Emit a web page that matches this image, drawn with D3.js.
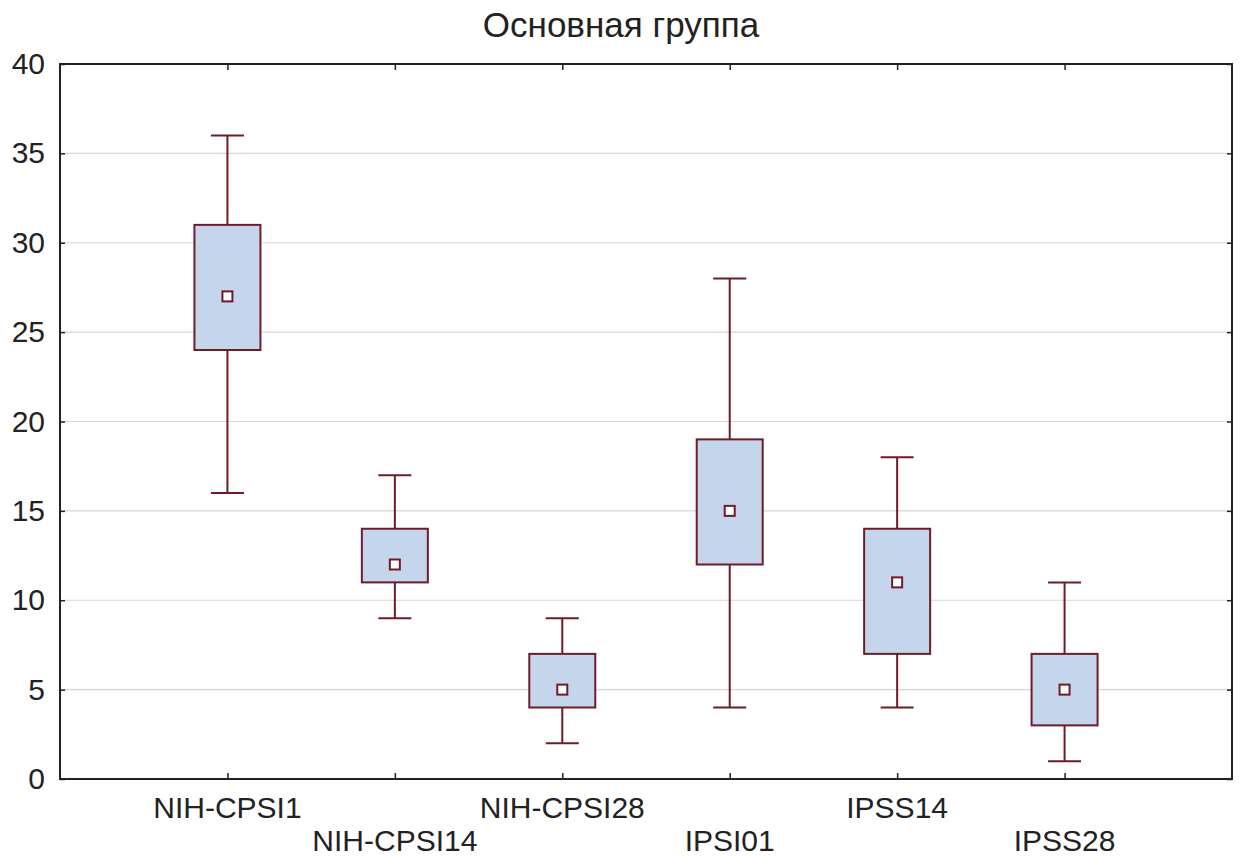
<!DOCTYPE html>
<html>
<head>
<meta charset="utf-8">
<script src="https://cdn.jsdelivr.net/npm/d3@7"></script>
<style>
  body { margin: 0; background: #fff; }
  text { font-family: "Liberation Sans", Arial, sans-serif; fill: #222; }
</style>
</head>
<body>
<div id="chart"></div>
<script>
var chart_width = 1240;
var chart_height = 858;

var categories = ['NIH-CPSI1', 'NIH-CPSI14', 'NIH-CPSI28', 'IPSI01', 'IPSS14', 'IPSS28'];
var mins    = [16, 9, 2, 4, 4, 1];
var q1s     = [24, 11, 4, 12, 7, 3];
var medians = [27, 12, 5, 15, 11, 5];
var q3s     = [31, 14, 7, 19, 14, 7];
var maxs    = [36, 17, 9, 28, 18, 11];
var y_ticks = [0, 5, 10, 15, 20, 25, 30, 35, 40];

var p_left = 60, p_right = 1232, p_top = 64, p_bottom = 779;
var stroke_col = '#6e1c28';

var svg = d3.select('#chart')
  .append('svg')
  .attr('width', chart_width)
  .attr('height', chart_height);

var x_scale = d3.scaleLinear()
  .domain([0, categories.length + 1])
  .range([p_left, p_right]);

var y_scale = d3.scaleLinear()
  .domain([0, 40])
  .range([p_bottom, p_top]);

// grid lines
svg.selectAll('line.grid')
  .data(y_ticks.slice(1, -1))
  .enter()
  .append('line')
  .attr('x1', p_left).attr('x2', p_right)
  .attr('y1', function(d) { return y_scale(d); })
  .attr('y2', function(d) { return y_scale(d); })
  .attr('stroke', '#d6d6d6')
  .attr('stroke-width', 1.2);

// axes with inward ticks
var idx = categories.map(function(d, i) { return i + 1; });

var y_axis_left = d3.axisLeft(y_scale).tickValues(y_ticks).tickSize(-5).tickPadding(15);
var y_axis_right = d3.axisRight(y_scale).tickValues(y_ticks).tickSize(-5).tickFormat('');
var x_axis_top = d3.axisTop(x_scale).tickValues(idx).tickSize(-6).tickFormat('');
var x_axis_bottom = d3.axisBottom(x_scale).tickValues(idx).tickSize(-6).tickFormat('');

svg.append('g').attr('transform', 'translate(' + p_left + ',0)').call(y_axis_left);
svg.append('g').attr('transform', 'translate(' + p_right + ',0)').call(y_axis_right);
svg.append('g').attr('transform', 'translate(0,' + p_top + ')').call(x_axis_top);
svg.append('g').attr('transform', 'translate(0,' + p_bottom + ')').call(x_axis_bottom);

svg.selectAll('.domain').remove();
svg.selectAll('.tick line').attr('stroke', '#222').attr('stroke-width', 1.5);
svg.selectAll('.tick text').attr('font-size', 30).attr('fill', '#222')
  .attr('font-family', '"Liberation Sans", Arial, sans-serif');

// frame
svg.append('rect')
  .attr('x', p_left).attr('y', p_top)
  .attr('width', p_right - p_left).attr('height', p_bottom - p_top)
  .attr('fill', 'none')
  .attr('stroke', '#222')
  .attr('stroke-width', 2);

// category labels (staggered)
svg.selectAll('text.cat')
  .data(categories)
  .enter()
  .append('text')
  .attr('x', function(d, i) { return x_scale(i + 1); })
  .attr('y', function(d, i) { return i % 2 === 0 ? 818 : 851; })
  .attr('text-anchor', 'middle')
  .attr('font-size', 30)
  .text(function(d) { return d; });

// boxes
var box_w = 66, cap_w = 33, med_w = 10;
var g = svg.selectAll('g.box')
  .data(categories)
  .enter()
  .append('g')
  .attr('transform', function(d, i) { return 'translate(' + x_scale(i + 1) + ',0)'; });

g.append('line')
  .attr('x1', 0).attr('x2', 0)
  .attr('y1', function(d, i) { return y_scale(maxs[i]); })
  .attr('y2', function(d, i) { return y_scale(q3s[i]); })
  .attr('stroke', stroke_col).attr('stroke-width', 2);

g.append('line')
  .attr('x1', 0).attr('x2', 0)
  .attr('y1', function(d, i) { return y_scale(q1s[i]); })
  .attr('y2', function(d, i) { return y_scale(mins[i]); })
  .attr('stroke', stroke_col).attr('stroke-width', 2);

g.append('line')
  .attr('x1', -cap_w / 2).attr('x2', cap_w / 2)
  .attr('y1', function(d, i) { return y_scale(maxs[i]); })
  .attr('y2', function(d, i) { return y_scale(maxs[i]); })
  .attr('stroke', stroke_col).attr('stroke-width', 2);

g.append('line')
  .attr('x1', -cap_w / 2).attr('x2', cap_w / 2)
  .attr('y1', function(d, i) { return y_scale(mins[i]); })
  .attr('y2', function(d, i) { return y_scale(mins[i]); })
  .attr('stroke', stroke_col).attr('stroke-width', 2);

g.append('rect')
  .attr('x', -box_w / 2)
  .attr('width', box_w)
  .attr('y', function(d, i) { return y_scale(q3s[i]); })
  .attr('height', function(d, i) { return y_scale(q1s[i]) - y_scale(q3s[i]); })
  .attr('fill', '#c5d5ec')
  .attr('stroke', stroke_col).attr('stroke-width', 2);

g.append('rect')
  .attr('x', -med_w / 2)
  .attr('width', med_w)
  .attr('y', function(d, i) { return y_scale(medians[i]) - med_w / 2; })
  .attr('height', med_w)
  .attr('fill', '#fff')
  .attr('stroke', stroke_col).attr('stroke-width', 2);

// title
svg.append('text')
  .attr('x', 621)
  .attr('y', 37)
  .attr('text-anchor', 'middle')
  .attr('font-size', 35)
  .text('Основная группа');
</script>
</body>
</html>
